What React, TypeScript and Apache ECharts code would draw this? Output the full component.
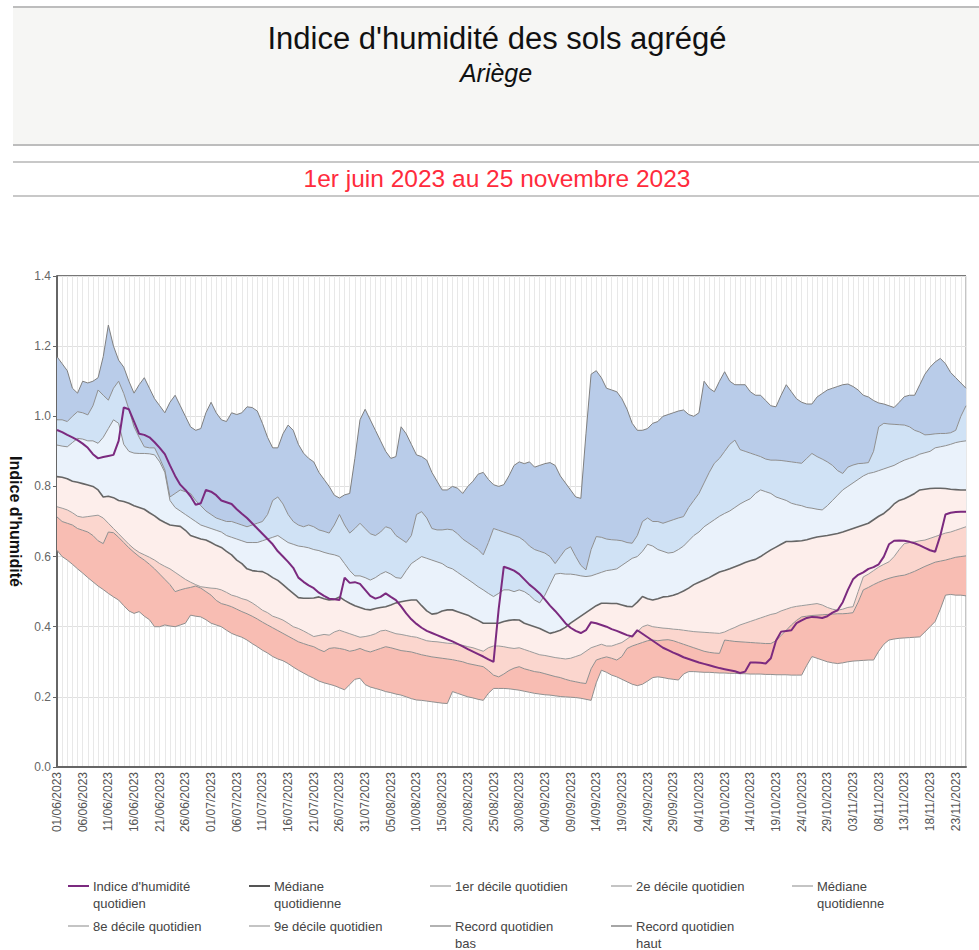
import React, { useEffect, useRef } from "react";
import * as echarts from "echarts";

// ---------- DATA (daily, 1 June 2023 -> 25 November 2023, 178 days) ----------
const startDate = { year: 2023, month: 5, day: 1 }; // JS month index (June)
const dayCount = 178;

const recordHaut = [
  1.17, 1.15, 1.13, 1.08, 1.066, 1.10, 1.095, 1.10, 1.11, 1.17,
  1.26, 1.20, 1.16, 1.14, 1.10, 1.066, 1.09, 1.11, 1.08, 1.05,
  1.03, 1.01, 1.04, 1.06, 1.03, 1.00, 0.97, 0.96, 0.965, 1.01,
  1.04, 1.01, 0.99, 0.985, 1.01, 1.005, 1.01, 1.027, 1.025, 1.015,
  0.98, 0.94, 0.91, 0.91, 0.95, 0.975, 0.96, 0.92, 0.895, 0.88,
  0.87, 0.84, 0.82, 0.80, 0.775, 0.767, 0.776, 0.78, 0.88, 0.99,
  1.02, 0.99, 0.96, 0.93, 0.90, 0.88, 0.885, 0.97, 0.95, 0.92,
  0.89, 0.885, 0.875, 0.84, 0.815, 0.79, 0.79, 0.80, 0.795, 0.78,
  0.80, 0.815, 0.835, 0.84, 0.82, 0.805, 0.80, 0.805, 0.83, 0.86,
  0.87, 0.865, 0.87, 0.855, 0.86, 0.865, 0.868, 0.86, 0.83, 0.81,
  0.79, 0.77, 0.766, 0.95, 1.12, 1.13, 1.11, 1.08, 1.075, 1.07,
  1.05, 1.02, 0.98, 0.96, 0.96, 0.965, 0.98, 0.985, 1.00, 1.005,
  1.01, 1.015, 1.018, 1.005, 1.00, 1.01, 1.10, 1.08, 1.07, 1.10,
  1.127, 1.10, 1.09, 1.09, 1.09, 1.07, 1.06, 1.06, 1.045, 1.03,
  1.027, 1.06, 1.09, 1.07, 1.05, 1.04, 1.035, 1.035, 1.055, 1.065,
  1.075, 1.08, 1.085, 1.09, 1.092, 1.085, 1.075, 1.06, 1.055, 1.045,
  1.038, 1.035, 1.03, 1.025, 1.04, 1.056, 1.06, 1.06, 1.09, 1.12,
  1.14, 1.155, 1.165, 1.15, 1.125, 1.11, 1.095, 1.08,
];

const decile9 = [
  0.99, 0.99, 0.985, 1.0, 1.013, 1.01, 1.004, 1.03, 1.075, 1.06,
  1.046, 1.08, 1.10, 1.065, 1.02, 0.97, 0.94, 0.913, 0.91, 0.91,
  0.88, 0.847, 0.77, 0.78, 0.79, 0.785, 0.78, 0.76, 0.745, 0.73,
  0.72, 0.71, 0.705, 0.70, 0.70, 0.695, 0.69, 0.685, 0.69, 0.695,
  0.70, 0.72, 0.76, 0.77, 0.75, 0.72, 0.70, 0.69, 0.685, 0.69,
  0.685, 0.676, 0.672, 0.667, 0.69, 0.72, 0.69, 0.667, 0.68, 0.695,
  0.68, 0.665, 0.66, 0.67, 0.685, 0.68, 0.66, 0.65, 0.64, 0.66,
  0.72, 0.728, 0.71, 0.68, 0.676, 0.676, 0.678, 0.676, 0.665, 0.65,
  0.64, 0.63, 0.62, 0.605, 0.64, 0.68, 0.675, 0.67, 0.665, 0.66,
  0.655, 0.645, 0.63, 0.62, 0.615, 0.61, 0.60, 0.58, 0.60, 0.62,
  0.628, 0.60, 0.575, 0.562, 0.62, 0.657, 0.655, 0.65, 0.648, 0.647,
  0.645, 0.64, 0.638, 0.66, 0.70, 0.71, 0.70, 0.70, 0.695, 0.70,
  0.705, 0.71, 0.714, 0.74, 0.76, 0.78, 0.81, 0.84, 0.866, 0.88,
  0.90, 0.92, 0.932, 0.905, 0.90, 0.895, 0.89, 0.885, 0.878, 0.875,
  0.875, 0.874, 0.872, 0.87, 0.868, 0.866, 0.88, 0.894, 0.885, 0.878,
  0.87, 0.86, 0.845, 0.837, 0.855, 0.861, 0.865, 0.866, 0.868, 0.90,
  0.97, 0.98, 0.978, 0.977, 0.976, 0.975, 0.97, 0.96, 0.955, 0.947,
  0.948, 0.95, 0.951, 0.951, 0.953, 0.96, 1.0, 1.03,
];

const decile8 = [
  0.918, 0.915, 0.913, 0.925, 0.937, 0.935, 0.93, 0.93, 0.923, 0.94,
  0.965, 0.99, 0.98, 0.92, 0.90, 0.895, 0.894, 0.894, 0.893, 0.89,
  0.87, 0.84, 0.76, 0.74, 0.73, 0.72, 0.71, 0.70, 0.69, 0.685,
  0.68, 0.675, 0.67, 0.66, 0.655, 0.65, 0.645, 0.64, 0.64, 0.64,
  0.645, 0.65, 0.655, 0.66, 0.65, 0.64, 0.635, 0.63, 0.628, 0.625,
  0.62, 0.617, 0.612, 0.608, 0.605, 0.60, 0.58, 0.56, 0.545, 0.545,
  0.54, 0.533, 0.54, 0.55, 0.557, 0.55, 0.54, 0.538, 0.56, 0.58,
  0.59, 0.60, 0.595, 0.59, 0.585, 0.58, 0.57, 0.565, 0.555, 0.545,
  0.535, 0.525, 0.514, 0.505, 0.495, 0.486, 0.495, 0.505, 0.505, 0.50,
  0.505, 0.50, 0.49, 0.476, 0.468, 0.49, 0.52, 0.55, 0.552, 0.55,
  0.55, 0.548, 0.545, 0.543, 0.545, 0.55, 0.555, 0.56, 0.562, 0.565,
  0.575, 0.585, 0.595, 0.60, 0.615, 0.635, 0.63, 0.62, 0.615, 0.61,
  0.612, 0.62, 0.63, 0.645, 0.66, 0.67, 0.685, 0.695, 0.705, 0.715,
  0.723, 0.73, 0.74, 0.75, 0.758, 0.765, 0.78, 0.79, 0.785, 0.78,
  0.77, 0.765, 0.76, 0.752, 0.748, 0.745, 0.74, 0.738, 0.735, 0.733,
  0.745, 0.76, 0.775, 0.79, 0.80, 0.81, 0.82, 0.83, 0.837, 0.84,
  0.845, 0.85, 0.855, 0.86, 0.868, 0.875, 0.88, 0.885, 0.892, 0.896,
  0.90, 0.91, 0.913, 0.916, 0.92, 0.925, 0.928, 0.93,
];

const mediane = [
  0.828, 0.826, 0.822, 0.815, 0.812, 0.808, 0.804, 0.80, 0.79, 0.77,
  0.772, 0.768, 0.76, 0.757, 0.752, 0.745, 0.74, 0.735, 0.725, 0.716,
  0.705, 0.697, 0.69, 0.688, 0.686, 0.675, 0.66, 0.655, 0.65, 0.647,
  0.64, 0.632, 0.626, 0.615, 0.605, 0.59, 0.58, 0.565, 0.56, 0.558,
  0.557, 0.55, 0.54, 0.532, 0.52, 0.507, 0.495, 0.483, 0.481, 0.481,
  0.482, 0.485, 0.48, 0.476, 0.478, 0.485, 0.475, 0.467, 0.46, 0.455,
  0.45, 0.448, 0.452, 0.455, 0.457, 0.462, 0.468, 0.471, 0.474, 0.476,
  0.476, 0.46, 0.445, 0.436, 0.438, 0.445, 0.448, 0.448, 0.443, 0.438,
  0.433, 0.425, 0.418, 0.41, 0.41, 0.41, 0.41, 0.415, 0.418, 0.42,
  0.419, 0.41, 0.405, 0.40, 0.395, 0.388, 0.381, 0.385, 0.39, 0.398,
  0.41, 0.42, 0.43, 0.44, 0.45, 0.46, 0.467, 0.467, 0.466, 0.466,
  0.462, 0.458, 0.457, 0.47, 0.486, 0.48, 0.476, 0.48, 0.485, 0.486,
  0.49, 0.495, 0.502, 0.51, 0.52, 0.527, 0.533, 0.54, 0.548, 0.556,
  0.56, 0.565, 0.571, 0.577, 0.583, 0.588, 0.592, 0.60, 0.61, 0.619,
  0.627, 0.635, 0.643, 0.643, 0.644, 0.645, 0.648, 0.652, 0.656, 0.658,
  0.66, 0.663, 0.666, 0.67, 0.675, 0.68, 0.685, 0.69, 0.695, 0.705,
  0.715, 0.723, 0.735, 0.75, 0.76, 0.765, 0.772, 0.78, 0.79, 0.792,
  0.794, 0.795, 0.795, 0.794, 0.792, 0.791, 0.79, 0.79,
];

const decile2 = [
  0.742, 0.738, 0.733, 0.725, 0.715, 0.712, 0.714, 0.716, 0.718, 0.71,
  0.695, 0.68, 0.665, 0.65, 0.635, 0.622, 0.612, 0.605, 0.598, 0.59,
  0.58, 0.572, 0.565, 0.555, 0.545, 0.535, 0.527, 0.52, 0.514, 0.512,
  0.51, 0.509, 0.505, 0.498, 0.49, 0.486, 0.48, 0.476, 0.468, 0.458,
  0.447, 0.44, 0.43, 0.425, 0.419, 0.41, 0.40, 0.395, 0.388, 0.38,
  0.372, 0.375, 0.378, 0.376, 0.385, 0.39, 0.385, 0.38, 0.375, 0.37,
  0.372, 0.375, 0.38, 0.388, 0.39, 0.385, 0.38, 0.378, 0.375, 0.372,
  0.37, 0.365, 0.36, 0.358, 0.357, 0.355, 0.353, 0.352, 0.35, 0.347,
  0.343, 0.34, 0.335, 0.33, 0.34, 0.345, 0.345, 0.343, 0.34, 0.338,
  0.34, 0.335, 0.33, 0.325, 0.32, 0.318, 0.315, 0.312, 0.31, 0.308,
  0.31, 0.315, 0.32, 0.33, 0.34, 0.345, 0.35, 0.345, 0.345, 0.35,
  0.355, 0.365, 0.375, 0.385, 0.40, 0.405, 0.40, 0.398, 0.396, 0.395,
  0.393, 0.392, 0.39, 0.388, 0.386, 0.385, 0.384, 0.383, 0.382, 0.381,
  0.385, 0.392, 0.398, 0.405, 0.41, 0.415, 0.42, 0.425, 0.43, 0.435,
  0.438, 0.445, 0.45, 0.455, 0.458, 0.46, 0.462, 0.464, 0.466, 0.462,
  0.455, 0.45, 0.447, 0.45, 0.455, 0.457, 0.50, 0.542, 0.55, 0.56,
  0.57, 0.578, 0.585, 0.60, 0.62, 0.637, 0.64, 0.642, 0.645, 0.647,
  0.652, 0.657, 0.662, 0.667, 0.67, 0.675, 0.68, 0.685,
];

const decile1 = [
  0.713, 0.70, 0.695, 0.69, 0.68, 0.675, 0.67, 0.66, 0.645, 0.637,
  0.67, 0.668, 0.655, 0.64, 0.625, 0.612, 0.60, 0.59, 0.578, 0.565,
  0.55, 0.535, 0.52, 0.50, 0.505, 0.509, 0.512, 0.516, 0.51, 0.50,
  0.49, 0.475, 0.466, 0.462, 0.457, 0.45, 0.443, 0.437, 0.43, 0.422,
  0.413, 0.405, 0.397, 0.389, 0.381, 0.373, 0.365, 0.357, 0.352, 0.347,
  0.343, 0.335, 0.329, 0.338, 0.34, 0.338, 0.335, 0.33, 0.333, 0.338,
  0.332, 0.328, 0.333, 0.338, 0.343, 0.34, 0.336, 0.332, 0.33, 0.328,
  0.324, 0.32, 0.317, 0.314, 0.312, 0.31, 0.308, 0.306, 0.303, 0.30,
  0.295, 0.292, 0.289, 0.286, 0.275, 0.262, 0.257, 0.265, 0.275, 0.282,
  0.286, 0.28, 0.276, 0.272, 0.27, 0.266, 0.262, 0.258, 0.255, 0.25,
  0.246, 0.243, 0.24, 0.238, 0.28, 0.305, 0.31, 0.314, 0.31, 0.305,
  0.315, 0.338, 0.345, 0.35, 0.355, 0.36, 0.362, 0.36, 0.362, 0.363,
  0.36, 0.355, 0.35, 0.345, 0.34, 0.335, 0.33, 0.327, 0.325, 0.324,
  0.362, 0.36, 0.358, 0.357, 0.356, 0.355, 0.354, 0.353, 0.352, 0.352,
  0.36, 0.375, 0.39, 0.405, 0.418, 0.428, 0.43, 0.432, 0.433, 0.434,
  0.435, 0.436, 0.437, 0.437, 0.438, 0.44, 0.47, 0.505, 0.512, 0.52,
  0.527, 0.533, 0.538, 0.542, 0.545, 0.547, 0.552, 0.558, 0.565, 0.572,
  0.578, 0.584, 0.587, 0.59, 0.594, 0.598, 0.60, 0.602,
];

const recordBas = [
  0.618, 0.60, 0.59, 0.578, 0.565, 0.553, 0.54, 0.528, 0.516, 0.506,
  0.495, 0.485, 0.476, 0.46, 0.445, 0.438, 0.443, 0.43, 0.42, 0.40,
  0.40, 0.405, 0.402, 0.40, 0.405, 0.41, 0.433, 0.43, 0.428, 0.42,
  0.41, 0.405, 0.40, 0.39, 0.381, 0.375, 0.37, 0.362, 0.352, 0.343,
  0.333, 0.325, 0.315, 0.308, 0.303, 0.295, 0.285, 0.276, 0.268, 0.26,
  0.253, 0.245, 0.24, 0.236, 0.232, 0.226, 0.22, 0.235, 0.25, 0.253,
  0.235, 0.228, 0.224, 0.22, 0.215, 0.212, 0.208, 0.205, 0.20, 0.195,
  0.191, 0.19, 0.188, 0.186, 0.184, 0.182, 0.181, 0.215, 0.21, 0.205,
  0.20, 0.197, 0.193, 0.19, 0.21, 0.224, 0.224, 0.224, 0.223, 0.221,
  0.219, 0.216, 0.213, 0.21, 0.208, 0.206, 0.205, 0.203, 0.201, 0.20,
  0.199, 0.198, 0.196, 0.193, 0.19, 0.24, 0.276, 0.27, 0.262, 0.257,
  0.25, 0.243, 0.236, 0.232, 0.236, 0.245, 0.255, 0.257, 0.255, 0.252,
  0.25, 0.248, 0.265, 0.272, 0.272, 0.271, 0.27, 0.27, 0.269, 0.268,
  0.268, 0.267, 0.267, 0.266, 0.266, 0.265, 0.265, 0.265, 0.264, 0.264,
  0.263, 0.263, 0.263, 0.262, 0.262, 0.262, 0.29, 0.315, 0.31, 0.305,
  0.30, 0.297, 0.295, 0.297, 0.30, 0.302, 0.303, 0.304, 0.305, 0.305,
  0.33, 0.35, 0.362, 0.365, 0.367, 0.368, 0.369, 0.37, 0.371, 0.385,
  0.40, 0.415, 0.45, 0.49, 0.492, 0.49, 0.49, 0.488,
];

const indiceQuotidien = [
  0.961, 0.955, 0.947, 0.94, 0.932, 0.922, 0.91, 0.892, 0.88, 0.884,
  0.887, 0.89, 0.93, 1.025, 1.02, 0.985, 0.95, 0.947, 0.94, 0.926,
  0.91, 0.892, 0.86, 0.83, 0.805, 0.79, 0.772, 0.748, 0.752, 0.79,
  0.785, 0.775, 0.76, 0.755, 0.75, 0.735, 0.722, 0.71, 0.695, 0.68,
  0.665, 0.65, 0.635, 0.615, 0.60, 0.585, 0.568, 0.54, 0.528, 0.518,
  0.51, 0.497, 0.488, 0.48, 0.478, 0.476, 0.54, 0.525, 0.527, 0.522,
  0.505, 0.488, 0.48, 0.485, 0.495, 0.485, 0.476, 0.458, 0.438, 0.421,
  0.408, 0.397, 0.388, 0.382, 0.376, 0.37, 0.364, 0.358, 0.351, 0.344,
  0.336, 0.329, 0.322, 0.315, 0.307, 0.30, 0.45, 0.571, 0.566, 0.56,
  0.55, 0.535, 0.52, 0.508, 0.495, 0.478, 0.46, 0.445, 0.428, 0.41,
  0.397, 0.388, 0.382, 0.39, 0.413, 0.41, 0.405, 0.40, 0.393, 0.388,
  0.382, 0.376, 0.372, 0.39, 0.38, 0.37, 0.36, 0.35, 0.34, 0.333,
  0.326, 0.32, 0.313, 0.308, 0.303, 0.298, 0.294, 0.29, 0.286, 0.282,
  0.279, 0.276, 0.273, 0.268, 0.272, 0.298, 0.298, 0.297, 0.295, 0.31,
  0.36, 0.386, 0.388, 0.39, 0.41, 0.418, 0.425, 0.428, 0.427, 0.425,
  0.43, 0.44, 0.447, 0.47, 0.505, 0.535, 0.548, 0.555, 0.565, 0.57,
  0.578, 0.60, 0.635, 0.645, 0.646, 0.645, 0.642, 0.638, 0.632, 0.625,
  0.618, 0.614, 0.66, 0.72, 0.725, 0.727, 0.728, 0.728,
];

const yTicks = [0, 0.2, 0.4, 0.6, 0.8, 1.0, 1.2, 1.4];

const legendLabels = [
  "Indice d'humidité\nquotidien",
  "Médiane\nquotidienne",
  "1er décile quotidien",
  "2e décile quotidien",
  "Médiane\nquotidienne",
  "8e décile quotidien",
  "9e décile quotidien",
  "Record quotidien\nbas",
  "Record quotidien\nhaut",
];

const titleText = "Indice d'humidité des sols agrégé";
const subtitleText = "Ariège";
const periodText = "1er juin 2023 au 25 novembre 2023";
const yAxisName = "Indice d'humidité";

// ---------- helpers ----------
function buildDates(): string[] {
  const out: string[] = [];
  for (let i = 0; i < dayCount; i++) {
    const d = new Date(Date.UTC(startDate.year, startDate.month, startDate.day + i));
    const dd = String(d.getUTCDate()).padStart(2, "0");
    const mm = String(d.getUTCMonth() + 1).padStart(2, "0");
    out.push(`${dd}/${mm}/${d.getUTCFullYear()}`);
  }
  return out;
}

const FONT = "Liberation Sans, Arial, sans-serif";

export default function App() {
  const ref = useRef<HTMLDivElement>(null);

  useEffect(() => {
    document.body.style.margin = "0";
    if (!ref.current) return;
    const chart = echarts.init(ref.current, undefined, { renderer: "svg" });
    const dates = buildDates();

    const layers = [
      { name: "Record quotidien bas", data: recordBas, fill: null, line: "#8f8f8f", w: 1 },
      { name: "1er décile quotidien", data: decile1, fill: "#f8bdb3", line: "#8f8f8f", w: 1 },
      { name: "2e décile quotidien", data: decile2, fill: "#fbd6ce", line: "#9a9a9a", w: 1 },
      { name: "Médiane quotidienne", data: mediane, fill: "#fdeeeb", line: "#666666", w: 1.6 },
      { name: "8e décile quotidien", data: decile8, fill: "#eaf2fb", line: "#8f8f8f", w: 1 },
      { name: "9e décile quotidien", data: decile9, fill: "#d0e2f5", line: "#8f8f8f", w: 1 },
      { name: "Record quotidien haut", data: recordHaut, fill: "#b9cce9", line: "#7f7f7f", w: 1 },
    ];

    const bandSeries = layers.map((l, i) => ({
      name: l.name,
      type: "line",
      stack: "env",
      stackStrategy: "all",
      symbol: "none",
      silent: true,
      data:
        i === 0
          ? l.data
          : l.data.map((v, k) => +(v - layers[i - 1].data[k]).toFixed(4)),
      lineStyle: { color: l.line, width: l.w },
      areaStyle: l.fill ? { color: l.fill, opacity: 1 } : undefined,
      z: 2,
    }));

    const legendColors = ["#7b2a7f", "#555555", "#b0b0b0", "#b0b0b0", "#b0b0b0", "#b0b0b0", "#b0b0b0", "#999999", "#888888"];
    const legendGraphics: any[] = [];
    legendLabels.forEach((lab, i) => {
      const col = i % 5;
      const row = Math.floor(i / 5);
      const x = 68 + col * 181;
      const y = 886 + row * 40;
      legendGraphics.push({
        type: "line",
        shape: { x1: x, y1: y, x2: x + 21, y2: y },
        style: { stroke: legendColors[i], lineWidth: i < 2 ? 2 : 1.5 },
        silent: true,
      });
      legendGraphics.push({
        type: "text",
        x: x + 25,
        y: y - 8,
        style: {
          text: lab,
          font: `13px ${FONT}`,
          fill: "#444",
          lineHeight: 17,
          textAlign: "left",
          textVerticalAlign: "top",
        },
        silent: true,
      });
    });

    const option: any = {
      animation: false,
      backgroundColor: "#ffffff",
      textStyle: { fontFamily: FONT },
      grid: {
        left: 57,
        right: 13,
        top: 276,
        bottom: 183,
        containLabel: false,
        outerBoundsMode: "none",
        show: true,
        borderColor: "#8a8a8a",
        borderWidth: 1,
        backgroundColor: "transparent",
      },
      xAxis: {
        type: "category",
        data: dates,
        boundaryGap: false,
        axisLine: { show: true, lineStyle: { color: "#666", width: 2 } },
        axisTick: { show: false },
        axisLabel: {
          interval: 4,
          rotate: 90,
          fontSize: 12,
          color: "#555",
          margin: 5,
          fontFamily: FONT,
        },
        splitLine: { show: true, interval: 0, lineStyle: { color: "#e8e8e8", width: 1 } },
      },
      yAxis: {
        type: "value",
        min: yTicks[0],
        max: yTicks[yTicks.length - 1],
        interval: 0.2,
        name: yAxisName,
        nameLocation: "middle",
        nameRotate: -90,
        nameGap: 33,
        nameTextStyle: { fontSize: 16, fontWeight: "bold", color: "#111", fontFamily: FONT },
        axisLine: { show: true, lineStyle: { color: "#666", width: 2 } },
        axisTick: { show: true, length: 4, lineStyle: { color: "#666" } },
        axisLabel: {
          fontSize: 12,
          color: "#666",
          margin: 6,
          fontFamily: FONT,
          formatter: (v: number) => v.toFixed(1),
        },
        splitLine: { show: true, lineStyle: { color: "#e0e0e0", width: 1 } },
      },
      series: [
        ...bandSeries,
        {
          name: "Indice d'humidité quotidien",
          type: "line",
          symbol: "none",
          silent: true,
          data: indiceQuotidien,
          lineStyle: { color: "#7b2a7f", width: 2 },
          z: 5,
        },
      ],
      graphic: [
        { type: "rect", shape: { x: 13, y: 6, width: 966, height: 140 }, style: { fill: "#f6f6f4" }, silent: true, z: -1 },
        { type: "line", shape: { x1: 13, y1: 7, x2: 979, y2: 7 }, style: { stroke: "#bdbdbd", lineWidth: 2 }, silent: true },
        { type: "line", shape: { x1: 13, y1: 145, x2: 979, y2: 145 }, style: { stroke: "#bdbdbd", lineWidth: 2 }, silent: true },
        { type: "line", shape: { x1: 13, y1: 162, x2: 979, y2: 162 }, style: { stroke: "#c8c8c8", lineWidth: 2 }, silent: true },
        { type: "line", shape: { x1: 13, y1: 196, x2: 979, y2: 196 }, style: { stroke: "#c8c8c8", lineWidth: 2 }, silent: true },
        { type: "line", shape: { x1: 57, y1: 276, x2: 966, y2: 276 }, style: { stroke: "#777", lineWidth: 2 }, silent: true },
        {
          type: "text",
          x: 497,
          y: 38,
          style: { text: titleText, font: `31px ${FONT}`, fill: "#111", textAlign: "center", textVerticalAlign: "middle" },
          silent: true,
        },
        {
          type: "text",
          x: 496,
          y: 73,
          style: { text: subtitleText, font: `italic 25px ${FONT}`, fill: "#111", textAlign: "center", textVerticalAlign: "middle" },
          silent: true,
        },
        {
          type: "text",
          x: 497,
          y: 178,
          style: { text: periodText, font: `24.5px ${FONT}`, fill: "#ff2b3c", textAlign: "center", textVerticalAlign: "middle" },
          silent: true,
        },
        ...legendGraphics,
      ],
    };

    chart.setOption(option);
    return () => chart.dispose();
  }, []);

  return <div ref={ref} style={{ width: 979, height: 950 }} />;
}
